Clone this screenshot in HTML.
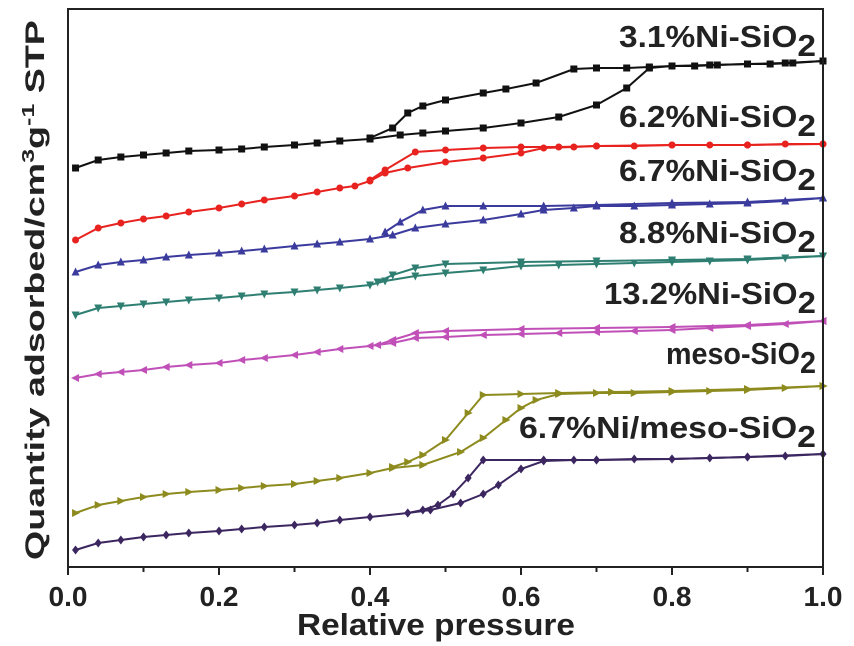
<!DOCTYPE html>
<html><head><meta charset="utf-8">
<style>
html,body{margin:0;padding:0;background:#fff;}
svg{display:block;font-family:"Liberation Sans",sans-serif;font-weight:bold;}
</style></head>
<body>
<svg id="chart" width="854" height="646" viewBox="0 0 854 646" xmlns="http://www.w3.org/2000/svg">
<g id="series"></g>
<rect x="68" y="9" width="755" height="558" fill="none" stroke="#222" stroke-width="2"/>
<g id="xticks"></g>
<text id="xtitle" class="fit" data-w="278" x="297" y="635" font-size="31" fill="#222">Relative pressure</text>
<g transform="translate(44,560) rotate(-90)">
<text id="ytitle" class="fit" data-w="540" x="0" y="0" font-size="27" fill="#222">Quantity adsorbed/cm<tspan dy="-10" font-size="18">3</tspan><tspan dy="10">g</tspan><tspan dy="-10" font-size="18">-1</tspan><tspan dy="10"> STP</tspan></text>
</g>
<g font-size="31" fill="#222">
<text class="fit" data-w="197" x="619" y="47">3.1%Ni-SiO<tspan dy="9">2</tspan></text>
<text class="fit" data-w="197" x="619" y="127">6.2%Ni-SiO<tspan dy="9">2</tspan></text>
<text class="fit" data-w="197" x="619" y="181">6.7%Ni-SiO<tspan dy="9">2</tspan></text>
<text class="fit" data-w="197" x="619" y="243">8.8%Ni-SiO<tspan dy="9">2</tspan></text>
<text class="fit" data-w="212" x="604" y="304">13.2%Ni-SiO<tspan dy="9">2</tspan></text>
<text class="fit" data-w="150" x="666" y="364">meso-SiO<tspan dy="9">2</tspan></text>
<text class="fit" data-w="297" x="519" y="438">6.7%Ni/meso-SiO<tspan dy="9">2</tspan></text>
</g>
</svg>
<script>
const xTickLabels = ["0.0","0.2","0.4","0.6","0.8","1.0"];
const blackAdsP = [0.01,0.04,0.07,0.1,0.13,0.16,0.2,0.23,0.26,0.3,0.33,0.36,0.4,0.44,0.47,0.5,0.55,0.6,0.65,0.7,0.74,0.77,0.8,0.83,0.86,0.9,0.93,0.96,1.0];
const blackAdsQ = [399,407,410,412,414,416,417,418,420,422,424,426,428,432,434,436,439,444,450,462,479,499,501,501,502,503,503,504,506];
const blackDesP = [1.0,0.95,0.9,0.85,0.8,0.77,0.74,0.7,0.67,0.62,0.58,0.55,0.5,0.47,0.45,0.43,0.4];
const blackDesQ = [506,504,503,502,501,500,499,499,498,484,478,474,467,461,454,439,429];
const redAdsP = [0.01,0.04,0.07,0.1,0.13,0.16,0.2,0.23,0.26,0.3,0.33,0.36,0.38,0.4,0.42,0.45,0.5,0.55,0.6,0.63,0.67,0.7,0.75,0.8,0.85,0.9,0.95,1.0];
const redAdsQ = [327,339,344,348,351,355,359,363,367,371,375,379,381,386,394,399,405,409,414,419,420,421,421,422,422,422,423,423];
const redDesP = [1.0,0.9,0.8,0.7,0.65,0.6,0.55,0.5,0.46,0.42,0.4];
const redDesQ = [423,422,422,421,420,420,419,417,415,397,387];
const blueAdsP = [0.01,0.04,0.07,0.1,0.13,0.16,0.2,0.23,0.26,0.3,0.33,0.36,0.4,0.43,0.46,0.5,0.55,0.6,0.63,0.67,0.7,0.75,0.8,0.85,0.9,0.95,1.0];
const blueAdsQ = [295,302,305,307,310,312,314,316,318,321,323,325,328,332,339,343,347,353,357,359,361,361,362,363,364,366,369];
const blueDesP = [1.0,0.9,0.8,0.7,0.63,0.55,0.5,0.47,0.44,0.42];
const blueDesQ = [369,365,364,362,361,361,361,357,345,335];
const tealAdsP = [0.01,0.04,0.07,0.1,0.13,0.16,0.2,0.23,0.26,0.3,0.33,0.36,0.4,0.42,0.46,0.5,0.55,0.6,0.65,0.7,0.75,0.8,0.85,0.9,0.95,1.0];
const tealAdsQ = [252,259,261,263,265,267,269,271,273,275,277,279,282,286,291,294,297,301,302,303,304,305,306,307,309,311];
const tealDesP = [1.0,0.9,0.8,0.7,0.6,0.5,0.46,0.43,0.41];
const tealDesQ = [311,308,307,306,305,303,299,292,285];
const magentaAdsP = [0.01,0.04,0.07,0.1,0.13,0.16,0.2,0.23,0.26,0.3,0.33,0.36,0.4,0.43,0.46,0.5,0.55,0.6,0.65,0.7,0.75,0.8,0.85,0.9,0.95,1.0];
const magentaAdsQ = [189,193,195,197,200,202,204,207,209,212,215,218,221,224,229,230,232,233,234,235,236,237,239,241,243,246];
const magentaDesP = [1.0,0.9,0.8,0.7,0.6,0.5,0.46,0.43,0.41];
const magentaDesQ = [246,242,240,239,238,236,234,227,222];
const oliveAdsP = [0.01,0.04,0.07,0.1,0.13,0.16,0.2,0.23,0.26,0.3,0.33,0.36,0.4,0.43,0.47,0.52,0.55,0.58,0.6,0.62,0.65,0.7,0.75,0.8,0.85,0.9,0.95,1.0];
const oliveAdsQ = [54,62,66,70,73,75,77,79,81,83,86,89,94,99,102,115,129,147,159,167,173,174,174,175,176,177,179,181];
const oliveDesP = [1.0,0.9,0.8,0.72,0.65,0.6,0.55,0.53,0.5,0.47,0.45,0.43];
const oliveDesQ = [181,178,176,175,174,173,172,154,127,112,105,100];
const purpleAdsP = [0.01,0.04,0.07,0.1,0.13,0.16,0.2,0.23,0.26,0.3,0.33,0.36,0.4,0.45,0.48,0.52,0.55,0.57,0.6,0.63,0.67,0.7,0.75,0.8,0.85,0.9,0.95,1.0];
const purpleAdsQ = [17,24,27,30,32,34,36,38,40,42,44,47,50,54,57,64,73,82,98,106,107,107,108,108,109,110,111,113];
const purpleDesP = [1.0,0.9,0.8,0.7,0.63,0.55,0.53,0.51,0.49,0.47,0.45];
const purpleDesQ = [113,110,108,107,107,107,89,73,62,57,54];

const NS = "http://www.w3.org/2000/svg";
const X0 = 68, X1 = 823, Y0 = 567;
function xs(p){ return X0 + p*(X1-X0); }
function ys(q){ return Y0 - q; }

const seriesList = [
  {name:"3-1-ni-sio2", color:"#111111", marker:"square", branches:[[blackAdsP,blackAdsQ],[blackDesP,blackDesQ]]},
  {name:"6-2-ni-sio2", color:"#e8231f", marker:"circle", branches:[[redAdsP,redAdsQ],[redDesP,redDesQ]]},
  {name:"6-7-ni-sio2", color:"#3b3b9e", marker:"up", branches:[[blueAdsP,blueAdsQ],[blueDesP,blueDesQ]]},
  {name:"8-8-ni-sio2", color:"#2e7f72", marker:"down", branches:[[tealAdsP,tealAdsQ],[tealDesP,tealDesQ]]},
  {name:"13-2-ni-sio2", color:"#c050b8", marker:"left", branches:[[magentaAdsP,magentaAdsQ],[magentaDesP,magentaDesQ]]},
  {name:"meso-sio2", color:"#8d8b1e", marker:"right", branches:[[oliveAdsP,oliveAdsQ],[oliveDesP,oliveDesQ]]},
  {name:"6-7-ni-meso-sio2", color:"#3b2660", marker:"diamond", branches:[[purpleAdsP,purpleAdsQ],[purpleDesP,purpleDesQ]]}
];

function markerPath(type,x,y){
  const s=3.5;
  switch(type){
    case "square": return `M${x-s},${y-s}h${2*s}v${2*s}h${-2*s}Z`;
    case "circle": return `M${x-s},${y}a${s},${s} 0 1,0 ${2*s},0a${s},${s} 0 1,0 ${-2*s},0Z`;
    case "up": return `M${x},${y-s-1}L${x+s+0.5},${y+s}L${x-s-0.5},${y+s}Z`;
    case "down": return `M${x},${y+s+1}L${x+s+0.5},${y-s}L${x-s-0.5},${y-s}Z`;
    case "left": return `M${x-s-1},${y}L${x+s},${y-s-0.5}L${x+s},${y+s+0.5}Z`;
    case "right": return `M${x+s+1},${y}L${x-s},${y-s-0.5}L${x-s},${y+s+0.5}Z`;
    default: return `M${x},${y-s-1}L${x+s},${y}L${x},${y+s+1}L${x-s},${y}Z`;
  }
}

const g = document.getElementById("series");
seriesList.forEach(s=>{
  const sg = document.createElementNS(NS,"g");
  
  
  s.branches.forEach((b,bi)=>{
    const [P,Q]=b;
    const pts = P.map((p,i)=>xs(p).toFixed(1)+","+ys(Q[i]).toFixed(1)).join(" ");
    const line = document.createElementNS(NS,"polyline");
    
    
    line.setAttribute("points",pts);
    line.setAttribute("fill","none");
    line.setAttribute("stroke",s.color);
    line.setAttribute("stroke-width","2");
    sg.appendChild(line);
    P.forEach((p,i)=>{
      const m = document.createElementNS(NS,"path");
      
      
      m.setAttribute("d",markerPath(s.marker,xs(p),ys(Q[i])));
      m.setAttribute("fill",s.color);
      sg.appendChild(m);
    });
  });
  g.appendChild(sg);
});

const xt = document.getElementById("xticks");
for(let i=0;i<=10;i++){
  const x = xs(i/10);
  const t = document.createElementNS(NS,"line");
  
  
  t.setAttribute("x1",x);t.setAttribute("x2",x);
  t.setAttribute("y1",Y0);t.setAttribute("y2",Y0+(i%2===0?8:5));
  t.setAttribute("stroke","#222");t.setAttribute("stroke-width","2");
  xt.appendChild(t);
}
xTickLabels.forEach((lab,i)=>{
  const tx = document.createElementNS(NS,"text");
  
  
  tx.setAttribute("class","fit");
  tx.setAttribute("data-w","39");
  tx.setAttribute("x",(xs(parseFloat(lab))-19.5).toFixed(1));
  tx.setAttribute("y",606);
  tx.setAttribute("font-size","28");
  tx.setAttribute("fill","#222");
  tx.textContent=lab;
  xt.appendChild(tx);
});

// horizontally scale texts to match target widths
document.querySelectorAll("text.fit").forEach(t=>{
  const target = parseFloat(t.getAttribute("data-w"));
  const w = t.getComputedTextLength();
  if(w>0){
    const sx = target / w;
    const x = parseFloat(t.getAttribute("x"));
    t.setAttribute("transform", `translate(${x},0) scale(${sx},1) translate(${-x},0)`);
  }
});
</script>
</body></html>
